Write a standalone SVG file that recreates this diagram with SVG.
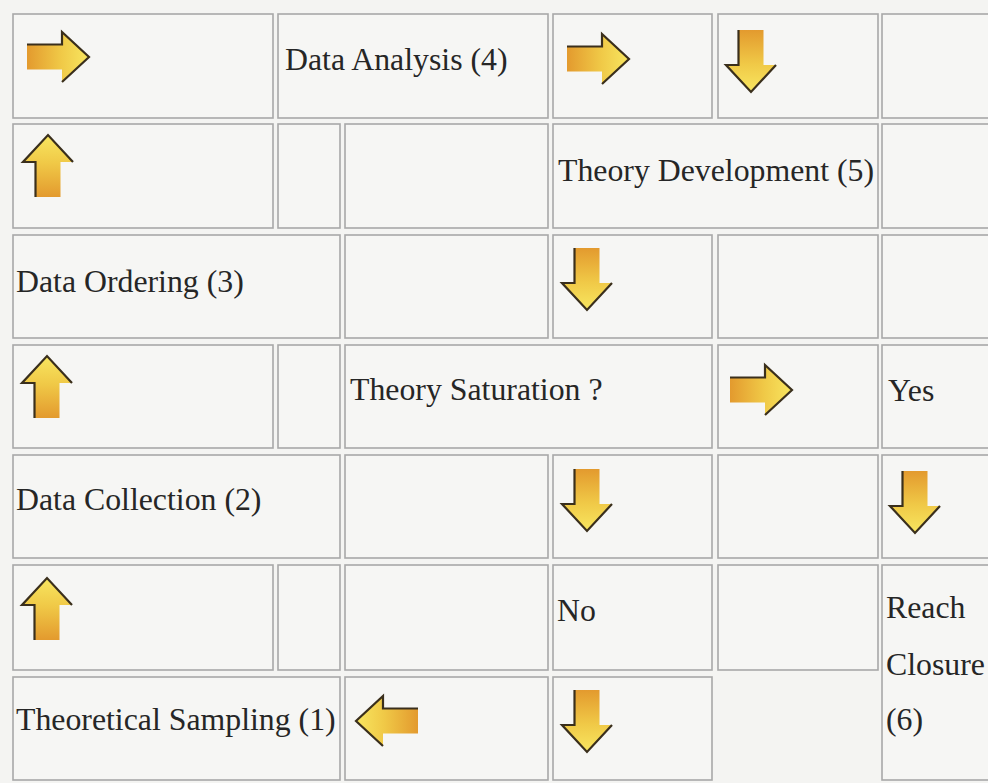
<svg xmlns="http://www.w3.org/2000/svg" xmlns:xlink="http://www.w3.org/1999/xlink" width="988" height="783" viewBox="0 0 988 783">
<style>
.cell{fill:#f6f6f4;stroke:#a8a8a8;stroke-width:1.6}
.t{font-family:"Liberation Serif","Times New Roman",serif;font-size:31.8px;fill:#262626}
</style>
<defs>
<linearGradient id="ag" x1="0" y1="0" x2="1" y2="0">
<stop offset="0" stop-color="#e39a2e"/>
<stop offset="0.55" stop-color="#f0c947"/>
<stop offset="1" stop-color="#f8e660"/>
</linearGradient>
<g id="arrowR">
<path d="M0,-12.5 H35 V-25 L62,0 L35,25 V12.5 H0 Z" fill="url(#ag)"/>
<polyline points="0,-12.5 35,-12.5 35,-25 62,0 35,25" fill="none" stroke="#3a2f1c" stroke-width="2.2" stroke-linejoin="miter"/>
</g>
</defs>
<rect width="988" height="783" fill="#f4f4f2"/>
<g id="row1">
<g id="r1a"><rect class="cell" x="13" y="14" width="260" height="104"/></g>
<g id="n-analysis"><rect class="cell" x="278" y="14" width="270" height="104"/><text class="t" x="285" y="70">Data Analysis (4)</text></g>
<g id="r1d"><rect class="cell" x="553" y="14" width="159" height="104"/></g>
<g id="r1e"><rect class="cell" x="718" y="14" width="160" height="104"/></g>
<g id="r1f"><rect class="cell" x="882" y="14" width="110" height="104"/></g>
</g>
<g id="row2">
<g id="r2a"><rect class="cell" x="13" y="124" width="260" height="104"/></g>
<g id="r2b"><rect class="cell" x="278" y="124" width="62" height="104"/></g>
<g id="r2c"><rect class="cell" x="345" y="124" width="203" height="104"/></g>
<g id="n-development"><rect class="cell" x="553" y="124" width="325" height="104"/><text class="t" x="558" y="181">Theory Development (5)</text></g>
<g id="r2f"><rect class="cell" x="882" y="124" width="110" height="104"/></g>
</g>
<g id="row3">
<g id="n-ordering"><rect class="cell" x="13" y="235" width="327" height="103"/><text class="t" x="16" y="292">Data Ordering (3)</text></g>
<g id="r3c"><rect class="cell" x="345" y="235" width="203" height="103"/></g>
<g id="r3d"><rect class="cell" x="553" y="235" width="159" height="103"/></g>
<g id="r3e"><rect class="cell" x="718" y="235" width="160" height="103"/></g>
<g id="r3f"><rect class="cell" x="882" y="235" width="110" height="103"/></g>
</g>
<g id="row4">
<g id="r4a"><rect class="cell" x="13" y="345" width="260" height="103"/></g>
<g id="r4b"><rect class="cell" x="278" y="345" width="62" height="103"/></g>
<g id="n-saturation"><rect class="cell" x="345" y="345" width="367" height="103"/><text class="t" x="350" y="400">Theory Saturation ?</text></g>
<g id="r4e"><rect class="cell" x="718" y="345" width="160" height="103"/></g>
<g id="n-yes"><rect class="cell" x="882" y="345" width="110" height="103"/><text class="t" x="888" y="401">Yes</text></g>
</g>
<g id="row5">
<g id="n-collection"><rect class="cell" x="13" y="455" width="327" height="103"/><text class="t" x="16" y="510">Data Collection (2)</text></g>
<g id="r5c"><rect class="cell" x="345" y="455" width="203" height="103"/></g>
<g id="r5d"><rect class="cell" x="553" y="455" width="159" height="103"/></g>
<g id="r5e"><rect class="cell" x="718" y="455" width="160" height="103"/></g>
<g id="r5f"><rect class="cell" x="882" y="455" width="110" height="103"/></g>
</g>
<g id="row6">
<g id="r6a"><rect class="cell" x="13" y="565" width="260" height="105"/></g>
<g id="r6b"><rect class="cell" x="278" y="565" width="62" height="105"/></g>
<g id="r6c"><rect class="cell" x="345" y="565" width="203" height="105"/></g>
<g id="n-no"><rect class="cell" x="553" y="565" width="159" height="105"/><text class="t" x="557" y="621">No</text></g>
<g id="r6e"><rect class="cell" x="718" y="565" width="160" height="105"/></g>
<g id="n-closure"><rect class="cell" x="882" y="565" width="110" height="215"/><text class="t" x="886" y="618">Reach</text><text class="t" x="886" y="675">Closure</text><text class="t" x="886" y="730">(6)</text></g>
</g>
<g id="row7">
<g id="n-sampling"><rect class="cell" x="13" y="677" width="327" height="103"/><text class="t" x="16" y="730">Theoretical Sampling (1)</text></g>
<g id="r7c"><rect class="cell" x="345" y="677" width="203" height="103"/></g>
<g id="r7d"><rect class="cell" x="553" y="677" width="159" height="103"/></g>
</g>
<g id="connectors">
<use xlink:href="#arrowR" transform="translate(27,57)"/>
<use xlink:href="#arrowR" transform="translate(567,59)"/>
<use xlink:href="#arrowR" transform="translate(751,30) matrix(0,1,1,0,0,0)"/>
<use xlink:href="#arrowR" transform="translate(48,197) rotate(-90)"/>
<use xlink:href="#arrowR" transform="translate(587,248) matrix(0,1,1,0,0,0)"/>
<use xlink:href="#arrowR" transform="translate(47,418) rotate(-90)"/>
<use xlink:href="#arrowR" transform="translate(730,390)"/>
<use xlink:href="#arrowR" transform="translate(587,469) matrix(0,1,1,0,0,0)"/>
<use xlink:href="#arrowR" transform="translate(915,471) matrix(0,1,1,0,0,0)"/>
<use xlink:href="#arrowR" transform="translate(47,640) rotate(-90)"/>
<use xlink:href="#arrowR" transform="translate(418,721) scale(-1,1)"/>
<use xlink:href="#arrowR" transform="translate(587,690) matrix(0,1,1,0,0,0)"/>
</g>
</svg>
